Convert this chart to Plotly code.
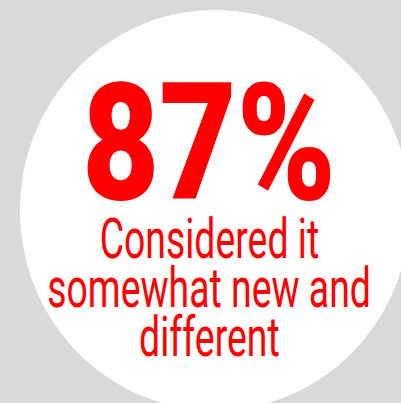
import json
import plotly.graph_objects as go

big_value = "87%"
caption_lines = ["Considered it", "somewhat new and", "different"]

W, H = 401, 403
RED = "#ff0000"
GRAY = "#d9d9d9"
FONT = "Roboto, Liberation Sans, sans-serif"

fig = go.Figure()
fig.add_shape(type="circle", xref="x", yref="y", x0=20, x1=410, y0=10, y1=410.6,
              fillcolor="white", line=dict(width=0), layer="below")

# annotation: (text, y-center, size, weight, horizontal squeeze)
specs = [(big_value, 143.5, 163, 900, 0.82)]
ys = [238.5, 287.5, 336.5]
for t, y in zip(caption_lines, ys):
    specs.append((t, y, 55, 400, 0.68))

for t, y, s, w, _ in specs:
    fig.add_annotation(x=209, y=y, xref="x", yref="y", text=t, showarrow=False,
                       font=dict(family=FONT, size=s, color=RED, weight=w),
                       xanchor="center", yanchor="middle")

fig.update_xaxes(range=[0, W], visible=False, fixedrange=True)
fig.update_yaxes(range=[H, 0], visible=False, fixedrange=True)
fig.update_layout(width=W, height=H, margin=dict(l=0, r=0, t=0, b=0),
                  paper_bgcolor=GRAY, plot_bgcolor=GRAY, showlegend=False)

scales = json.dumps([sp[4] for sp in specs])
post = """
var gd = document.getElementById('{plot_id}');
var sc = %s;
function squeeze(){
  sc.forEach(function(sx, i){
    var t = gd.querySelector('g.annotation[data-index="' + i + '"] text.annotation-text');
    if(!t) return;
    t.removeAttribute('transform');
    var b = t.getBBox();
    var cx = b.x + b.width/2;
    t.setAttribute('transform', 'translate(' + cx + ',0) scale(' + sx + ',1) translate(' + (-cx) + ',0)');
  });
}
squeeze();
gd.on && gd.on('plotly_afterplot', squeeze);
""" % scales
fig.write_html("out.html", post_script=post, config={"staticPlot": True})
